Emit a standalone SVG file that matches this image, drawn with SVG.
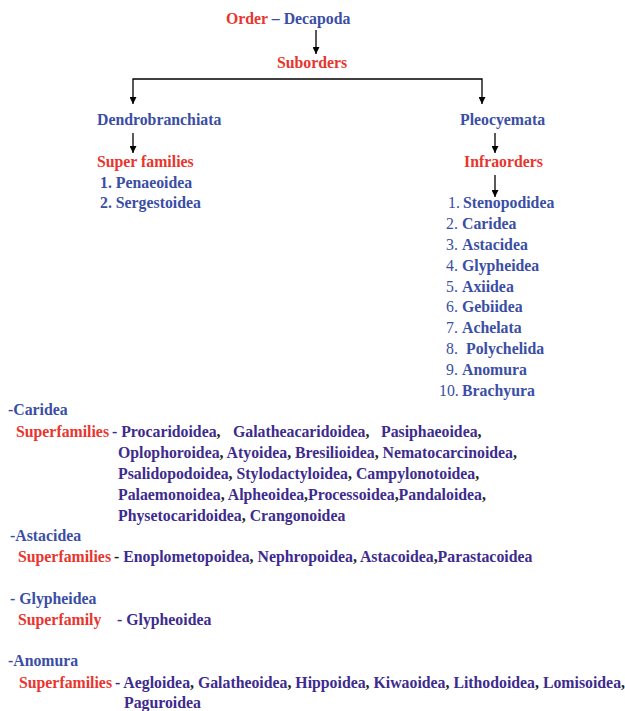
<svg xmlns="http://www.w3.org/2000/svg" width="625" height="711" viewBox="0 0 625 711">
<defs>
<marker id="arr" viewBox="0 0 10 10" refX="10" refY="5" markerWidth="7" markerHeight="7" markerUnits="userSpaceOnUse" orient="auto-start-reverse"><path d="M0,0 L10,5 L0,10 z" fill="#000"/></marker>
<style>
text{font-family:"Liberation Serif","Times New Roman",serif;font-size:15.8px;font-weight:bold}
.r{fill:#e8352e}
.b{fill:#3a4ea5}
.p{fill:#3d2b8e}
.k{fill:#222}
.n{font-weight:normal}
.c line,.c path{stroke:#000;stroke-width:1.3;fill:none}
</style>
</defs>
<rect width="625" height="711" fill="#fff"/>
<g class="c" id="connectors">
<line x1="316" y1="30" x2="316" y2="54" marker-end="url(#arr)"/>
<path d="M133,104 V79 H482 V104" marker-start="url(#arr)" marker-end="url(#arr)"/>
<line x1="133" y1="133" x2="133" y2="153" marker-end="url(#arr)"/>
<line x1="495" y1="133" x2="495" y2="153" marker-end="url(#arr)"/>
<line x1="495" y1="175" x2="495" y2="197" marker-end="url(#arr)"/>
</g>
<g id="order"><text x="226" y="24"><tspan class="r">Order</tspan><tspan class="b"> – Decapoda</tspan></text></g>
<g id="suborders"><text x="277" y="68" class="r">Suborders</text></g>
<g id="dendrobranchiata"><text x="97" y="125" class="b">Dendrobranchiata</text></g>
<g id="pleocyemata"><text x="460" y="125" class="b">Pleocyemata</text></g>
<g id="superfamilies-d">
<text x="97" y="167" class="r">Super families</text>
<text x="100" y="188" class="b">1. Penaeoidea</text>
<text x="100" y="208" class="b">2. Sergestoidea</text>
</g>
<g id="infraorders"><text x="464" y="167" class="r">Infraorders</text></g>
<g id="infraorder-list" class="b">
<text y="208" class="b"><tspan x="448" class="n">1.</tspan><tspan x="463">Stenopodidea</tspan></text>
<text y="229" class="b"><tspan x="446" class="n">2.</tspan><tspan x="462">Caridea</tspan></text>
<text y="250" class="b"><tspan x="446" class="n">3.</tspan><tspan x="462">Astacidea</tspan></text>
<text y="271" class="b"><tspan x="446" class="n">4.</tspan><tspan x="462">Glypheidea</tspan></text>
<text y="292" class="b"><tspan x="446" class="n">5.</tspan><tspan x="462">Axiidea</tspan></text>
<text y="312" class="b"><tspan x="446" class="n">6.</tspan><tspan x="462">Gebiidea</tspan></text>
<text y="333" class="b"><tspan x="446" class="n">7.</tspan><tspan x="462">Achelata</tspan></text>
<text y="354" class="b"><tspan x="446" class="n">8.</tspan><tspan x="466">Polychelida</tspan></text>
<text y="375" class="b"><tspan x="446" class="n">9.</tspan><tspan x="462">Anomura</tspan></text>
<text y="396" class="b"><tspan x="439" class="n">10.</tspan><tspan x="462">Brachyura</tspan></text>
</g>
<g id="caridea">
<text x="8" y="415" class="b">-Caridea</text>
<text y="437"><tspan x="16" class="r">Superfamilies</tspan><tspan x="112" class="p">- Procaridoidea</tspan><tspan class="k">,</tspan><tspan x="233" class="p">Galatheacaridoidea</tspan><tspan class="k">,</tspan><tspan x="381" class="p">Pasiphaeoidea</tspan><tspan class="k">,</tspan></text>
<text x="118" y="458"><tspan class="p">Oplophoroidea</tspan><tspan class="k">, </tspan><tspan class="p">Atyoidea</tspan><tspan class="k">, </tspan><tspan class="p">Bresilioidea</tspan><tspan class="k">, </tspan><tspan class="p">Nematocarcinoidea</tspan><tspan class="k">,</tspan></text>
<text x="118" y="479"><tspan class="p">Psalidopodoidea</tspan><tspan class="k">, </tspan><tspan class="p">Stylodactyloidea</tspan><tspan class="k">, </tspan><tspan class="p">Campylonotoidea</tspan><tspan class="k">,</tspan></text>
<text x="118" y="500"><tspan class="p">Palaemonoidea</tspan><tspan class="k">, </tspan><tspan class="p">Alpheoidea</tspan><tspan class="k">,</tspan><tspan class="p">Processoidea</tspan><tspan class="k">,</tspan><tspan class="p">Pandaloidea</tspan><tspan class="k">,</tspan></text>
<text x="118" y="521"><tspan class="p">Physetocaridoidea</tspan><tspan class="k">, </tspan><tspan class="p">Crangonoidea</tspan></text>
</g>
<g id="astacidea">
<text x="10" y="541" class="b">-Astacidea</text>
<text y="562"><tspan x="18" class="r">Superfamilies</tspan><tspan x="114" class="k">- </tspan><tspan class="p">Enoplometopoidea</tspan><tspan class="k">, </tspan><tspan class="p">Nephropoidea</tspan><tspan class="k">, </tspan><tspan class="p">Astacoidea</tspan><tspan class="k">,</tspan><tspan class="p">Parastacoidea</tspan></text>
</g>
<g id="glypheidea">
<text x="10" y="604" class="b">- Glypheidea</text>
<text y="625"><tspan x="18" class="r">Superfamily</tspan><tspan x="117" class="p">- Glypheoidea</tspan></text>
</g>
<g id="anomura">
<text x="8" y="666" class="b">-Anomura</text>
<text y="688"><tspan x="19" class="r">Superfamilies</tspan><tspan x="115" class="p">- Aegloidea</tspan><tspan class="k">, </tspan><tspan class="p">Galatheoidea</tspan><tspan class="k">, </tspan><tspan class="p">Hippoidea</tspan><tspan class="k">, </tspan><tspan class="p">Kiwaoidea</tspan><tspan class="k">, </tspan><tspan class="p">Lithodoidea</tspan><tspan class="k">, </tspan><tspan class="p">Lomisoidea</tspan><tspan class="k">,</tspan></text>
<text x="124" y="708" class="p">Paguroidea</text>
</g>
</svg>
